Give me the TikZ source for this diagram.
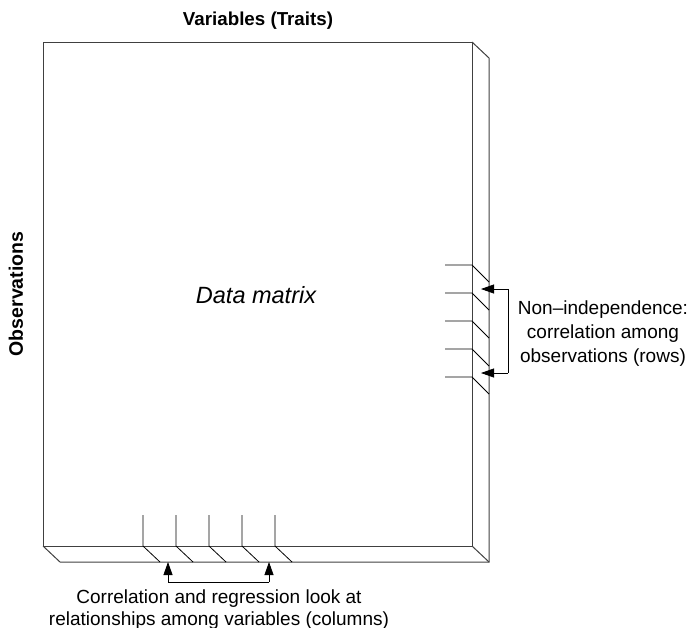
\documentclass[tikz,border=0pt]{standalone}
\usepackage{fontspec}
\setmainfont{Liberation Sans}
\usetikzlibrary{arrows.meta}
\begin{document}
\begin{tikzpicture}[x=1pt,y=-1pt,
  edge/.style={line width=1pt,draw=black!75},
  thin/.style={line width=0.8pt,draw=black},
  arr/.style={line width=0.8pt,-{Triangle[length=13pt,width=9pt]}},
  lbl/.style={align=center,inner sep=0pt}]
\useasboundingbox (0,0) rectangle (687,627);
% front face
\coordinate (ftl) at (43,42);
\coordinate (ftr) at (472,42);
\coordinate (fbr) at (472,546);
\coordinate (fbl) at (43,546);
\coordinate (btr) at (489,58);
\coordinate (bbr) at (489,562);
\coordinate (bbl) at (60,562);
\draw[edge] (fbl) -- (ftl) -- (ftr) -- (fbr) -- cycle;
\draw[edge] (ftr) -- (btr) -- (bbr) -- (bbl) -- (fbl);
\draw[edge] (fbr) -- (bbr);
% row lines
\foreach \y [count=\i] in {265,293,321,349,377}{
  \coordinate (ra\i) at (445,\y);
  \coordinate (rb\i) at (472,\y);
  \coordinate (rc\i) at (489,\y+17);
  \draw[thin] (ra\i) -- (rb\i) -- (rc\i);
}
% column lines
\foreach \x [count=\i] in {143,176,209,242,275}{
  \coordinate (ca\i) at (\x,515);
  \coordinate (cb\i) at (\x,546);
  \coordinate (cc\i) at (\x+17,562);
  \draw[thin] (ca\i) -- (cb\i) -- (cc\i);
}
% right bracket arrows
\coordinate (rt1) at (481,289);
\coordinate (rt2) at (481,373);
\coordinate (rk1) at (508,289);
\coordinate (rk2) at (508,373);
\draw[arr] (rk1) -- (rt1);
\draw[arr] (rk2) -- (rt2);
\draw[thin] (rk1) -- (rk2);
% bottom bracket arrows
\coordinate (bt1) at (168,562);
\coordinate (bt2) at (269,562);
\coordinate (bk1) at (168,582);
\coordinate (bk2) at (269,582);
\draw[arr] (bk1) -- (bt1);
\draw[arr] (bk2) -- (bt2);
\draw[thin] (bk1) -- (bk2);
% labels
\node[lbl,font=\fontsize{18.75}{22}\selectfont\bfseries] (vt) at (258,21) {Variables (Traits)};
\node[lbl,font=\fontsize{19.5}{22}\selectfont\bfseries,rotate=90] (ob) at (16,294) {Observations};
\node[lbl,font=\fontsize{23.5}{26}\selectfont\itshape] (dm) at (256,295) {Data matrix};
\node[lbl,font=\fontsize{19}{24}\selectfont] (ni) at (603,333.5) {Non–independence:\\correlation among\\observations (rows)};
\node[lbl,font=\fontsize{19}{22}\selectfont] (cr) at (219,609.5) {Correlation and regression look at\\relationships among variables (columns)};
\end{tikzpicture}
\end{document}
